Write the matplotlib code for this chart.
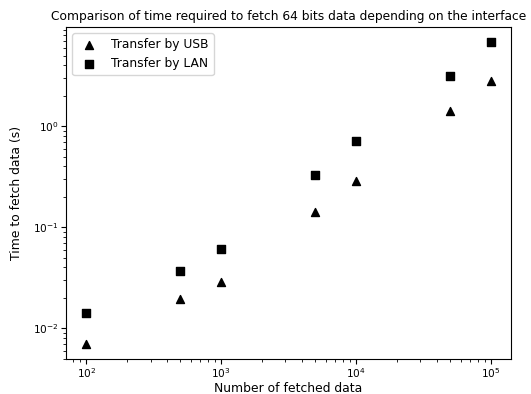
import matplotlib
matplotlib.use("Agg")
import matplotlib.pyplot as plt

n_data = [100, 500, 1000, 5000, 10000, 50000, 100000]
usb_time = [0.0070, 0.0196, 0.0285, 0.142, 0.284, 1.42, 2.78]
lan_time = [0.0142, 0.037, 0.0608, 0.327, 0.713, 3.12, 6.8]

fig = plt.figure(figsize=(5.31, 3.94), dpi=100)
ax = fig.add_axes([66 / 531, 35 / 394, 445 / 531, 332 / 394])

ax.scatter(n_data, usb_time, marker="^", color="black", s=33, label="Transfer by USB")
ax.scatter(n_data, lan_time, marker="s", color="black", s=33, label="Transfer by LAN")
ax.set_xscale("log")
ax.set_yscale("log")
ax.set_xlabel("Number of fetched data", fontsize=8.9)
ax.xaxis.set_label_coords(0.5, -0.068)
ax.set_ylabel("Time to fetch data (s)", fontsize=8.9)
ax.yaxis.set_label_coords(-0.097, 0.5)
ax.set_title("Comparison of time required to fetch 64 bits data depending on the interface",
             fontsize=8.8, pad=5)
ax.tick_params(labelsize=7.6, pad=2)
ax.legend(loc="upper left", fontsize=8.8)

fig.savefig("out.png", dpi=100)
